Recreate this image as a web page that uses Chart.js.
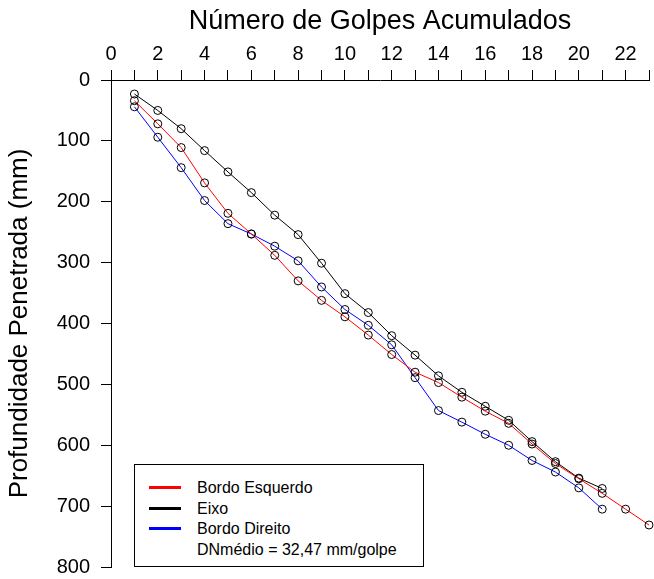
<!DOCTYPE html>
<html>
<head>
    <meta charset="utf-8">
    <title>Número de Golpes Acumulados</title>
    <script src="https://cdn.jsdelivr.net/npm/chart.js"></script>
    <style>
        body { margin: 0; background: #fff; }
        #wrap { position: relative; width: 654px; height: 579px; }
        #legend {
            position: absolute; left: 134px; top: 464px; width: 290px; height: 103px;
            border: 1px solid #000; box-sizing: border-box; background: #fff;
            font-family: "Liberation Sans", Arial, sans-serif; font-size: 16px; color: #000;
            padding-top: 13px;
        }
        #legend .row { height: 20.5px; line-height: 20.5px; position: relative; padding-left: 62px; white-space: nowrap; }
        #legend .sw { position: absolute; left: 14px; top: 8px; width: 32px; height: 3px; }
    </style>
</head>
<body>
    <div id="wrap">
        <canvas id="dcpChart" width="654" height="579"></canvas>
        <div id="legend"></div>
    </div>

    <script>
        const golpes = [1, 2, 3, 4, 5, 6, 7, 8, 9, 10, 11, 12, 13, 14, 15, 16, 17, 18, 19, 20, 21, 22, 23];
        const bordoEsquerdo = [34, 72, 111, 169, 219, 253, 288, 330, 362, 389, 419, 451, 480, 497, 521, 544, 564, 598, 630, 655, 679, 705, 731];
        const eixo = [23, 50, 80, 116, 151, 185, 222, 254, 301, 351, 382, 420, 452, 486, 513, 536, 559, 594, 627, 654, 671];
        const bordoDireito = [44, 94, 144, 198, 236, 253, 273, 297, 340, 377, 403, 435, 489, 543, 562, 582, 600, 625, 644, 670, 705];
        const legendNote = 'DNmédio = 32,47 mm/golpe';

        const series = [
            { label: 'Bordo Esquerdo', values: bordoEsquerdo, color: '#ff0000' },
            { label: 'Eixo', values: eixo, color: '#000000' },
            { label: 'Bordo Direito', values: bordoDireito, color: '#0000ff' }
        ];

        const font = '"Liberation Sans", Arial, sans-serif';

        const ctx = document.getElementById('dcpChart').getContext('2d');
        new Chart(ctx, {
            type: 'line',
            data: {
                datasets: series.map(s => ({
                    label: s.label,
                    data: s.values.map((v, i) => ({ x: golpes[i], y: v })),
                    borderColor: s.color,
                    borderWidth: 1,
                    pointRadius: 4,
                    pointBorderColor: '#000',
                    pointBorderWidth: 1,
                    pointBackgroundColor: 'rgba(0,0,0,0)',
                    clip: false
                }))
            },
            options: {
                responsive: false,
                animation: false,
                layout: { padding: { left: 0, top: 0, right: 2, bottom: 12 } },
                plugins: { legend: { display: false }, tooltip: { enabled: false } },
                scales: {
                    x: {
                        type: 'linear',
                        position: 'top',
                        min: 0,
                        max: 23,
                        afterFit: scale => {
                            scale.height = 80;
                            scale.paddingLeft = 0;
                            scale.paddingRight = 0;
                        },
                        afterBuildTicks: scale => {
                            scale.ticks = Array.from({ length: 24 }, (_, i) => ({ value: i }));
                        },
                        ticks: {
                            autoSkip: false,
                            maxRotation: 0,
                            padding: 4,
                            color: '#000',
                            font: { family: font, size: 20 },
                            callback: v => (v % 2 === 0 && v <= 22 ? String(v) : '')
                        },
                        grid: { drawOnChartArea: false, tickLength: 10, color: '#000', tickColor: '#000' },
                        border: { display: true, color: '#000', width: 1 },
                        title: {
                            display: true,
                            text: 'Número de Golpes Acumulados',
                            color: '#000',
                            font: { family: font, size: 27 },
                            padding: { top: 5, bottom: 0 }
                        }
                    },
                    y: {
                        type: 'linear',
                        reverse: true,
                        min: 0,
                        max: 800,
                        afterFit: scale => {
                            scale.width = 111;
                            scale.paddingTop = 0;
                            scale.paddingBottom = 0;
                        },
                        ticks: {
                            stepSize: 100,
                            padding: 11,
                            color: '#000',
                            font: { family: font, size: 20 }
                        },
                        grid: { drawOnChartArea: false, tickLength: 10, color: '#000', tickColor: '#000' },
                        border: { display: true, color: '#000', width: 1 },
                        title: {
                            display: true,
                            text: 'Profundidade Penetrada (mm)',
                            color: '#000',
                            font: { family: font, size: 26 },
                            padding: { top: 4, bottom: 0 }
                        }
                    }
                }
            }
        });

        const legend = document.getElementById('legend');
        series.forEach(s => {
            const row = document.createElement('div');
            row.className = 'row';
            const sw = document.createElement('span');
            sw.className = 'sw';
            sw.style.background = s.color;
            row.appendChild(sw);
            row.appendChild(document.createTextNode(s.label));
            legend.appendChild(row);
        });
        const note = document.createElement('div');
        note.className = 'row';
        note.textContent = legendNote;
        legend.appendChild(note);
    </script>
</body>
</html>
